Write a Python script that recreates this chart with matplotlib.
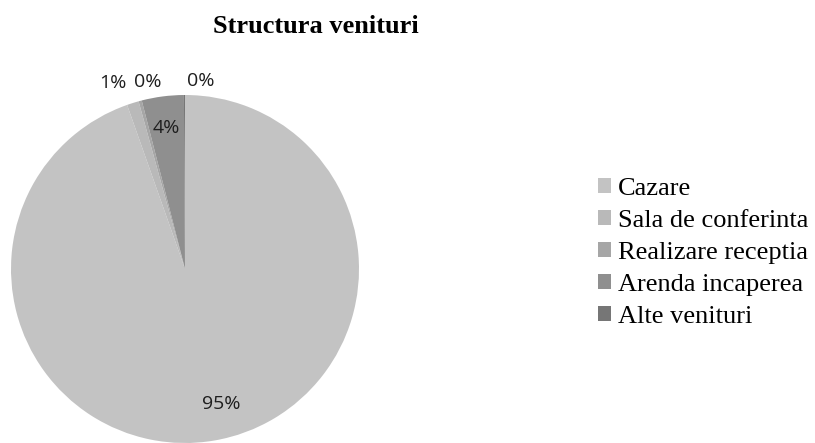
import matplotlib
matplotlib.use('Agg')
import matplotlib.pyplot as plt

categories = ['Cazare', 'Sala de conferinta', 'Realizare receptia', 'Arenda incaperea', 'Alte venituri']
shares = [94.6, 1.1, 0.3, 3.9, 0.1]
colors = ['#c3c3c3', '#b9b9b9', '#a6a6a6', '#8f8f8f', '#767676']

# positions of the small slice labels (pie units), outside the pie
outside_pos = {1: (-0.414, 1.07), 2: (-0.213, 1.075), 4: (0.092, 1.08)}

fig = plt.figure(figsize=(8.15, 4.43), dpi=100)

cx, cy, r = 185, 269, 174
ax = fig.add_axes([(cx - r) / 815, (443 - cy - r) / 443, 2 * r / 815, 2 * r / 443])

wedges, texts, autotexts = ax.pie(
    shares, colors=colors, startangle=90, counterclock=False,
    autopct=lambda p: f'{p:.0f}%', pctdistance=0.82,
    wedgeprops=dict(linewidth=0),
    textprops=dict(family='Open Sans', fontsize=14, color='#1e1e1e'))

for i, t in enumerate(autotexts):
    if i in outside_pos:
        t.set_position(outside_pos[i])
    if i == 0:
        x, y = t.get_position()
        t.set_position((x + 0.07, y + 0.03))

ax.set_xlim(-1, 1)
ax.set_ylim(-1, 1)
ax.set_aspect('auto')
ax.axis('off')

fig.text(316 / 815, 1 - 33 / 443, 'Structura venituri', ha='center', va='baseline',
         family='Liberation Serif', fontsize=19, fontweight='bold')

fig.legend(wedges, categories, loc='upper left', bbox_to_anchor=(598 / 815, 1 - 178 / 443),
           frameon=False, borderpad=0, borderaxespad=0,
           handlelength=0.5, handleheight=0.5, handletextpad=0.25, labelspacing=0.38,
           prop=dict(family='Liberation Serif', size=19))

fig.savefig('out.png', dpi=100)
